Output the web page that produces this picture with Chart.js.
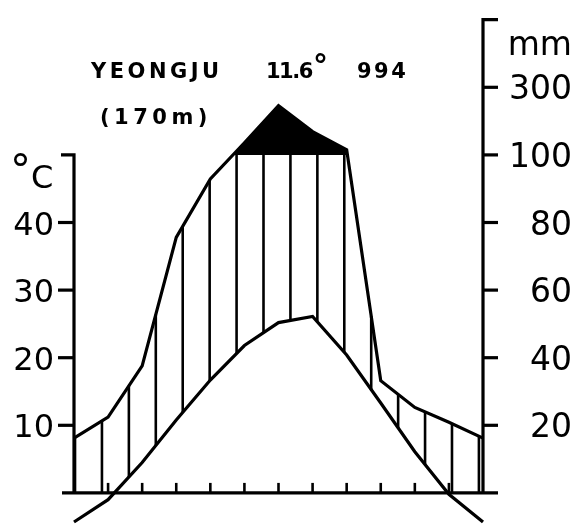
<!DOCTYPE html>
<html>
<head>
<meta charset="utf-8">
<script src="https://cdn.jsdelivr.net/npm/chart.js@4"></script>
<style>
body { margin: 0; background: #fff; }
#wrap { width: 574px; height: 525px; }
</style>
</head>
<body>
<div id="wrap"><canvas id="climate" width="574" height="525"></canvas></div>
<script>
// Walter-Lieth Klimadiagramm, Yeongju

const months = ['Jan', 'Feb', 'Mar', 'Apr', 'May', 'Jun', 'Jul', 'Aug', 'Sep', 'Oct', 'Nov', 'Dec', 'Jan'];
const temperature = [-4.3, -1.0, 4.5, 10.8, 16.7, 21.8, 25.2, 26.1, 20.4, 13.3, 6.1, -0.2];   // °C
const precipitation = [16.2, 22.4, 37.6, 75.6, 92.9, 136, 246, 169, 115, 33.2, 25.3, 20.9]; // mm
const tempTicks = [10, 20, 30, 40];
const rainTicks = [20, 40, 60, 80, 100, 300];
const rainTop = 500;

const station = 'YEONGJU';
const altitude = '(170m)';
const meanTemp = '11.6';
const totalRain = '994';

// 10 °C = 20 mm bis 100 mm, darüber 10 °C = 200 mm
function rainToScale(mm) {
    return mm <= 100 ? mm / 2 : 50 + (mm - 100) / 20;
}

function yAt(points, px) {
    for (let i = 0; i < points.length - 1; i++) {
        const a = points[i], b = points[i + 1];
        if (px >= a.x && px <= b.x) {
            const t = (px - a.x) / (b.x - a.x);
            return a.y + t * (b.y - a.y);
        }
    }
    return points[points.length - 1].y;
}

// senkrechte Schraffur für die humide Zeit
const hatchPlugin = {
    id: 'hatch',
    beforeDatasetsDraw(chart) {
        const ctx = chart.ctx;
        const xs = chart.scales.x, ys = chart.scales.y;
        const rainPts = chart.getDatasetMeta(0).data;
        const tempPts = chart.getDatasetMeta(1).data;
        const x0 = xs.getPixelForValue(0);
        const unit = xs.getPixelForValue(1) - x0;
        const y0 = ys.getPixelForValue(0);
        ctx.save();
        ctx.strokeStyle = '#000';
        ctx.lineWidth = 2.6;
        for (let k = 0; k < 16; k++) {
            const px = x0 + (0.03 + k * 0.79) * unit;
            const top = yAt(rainPts, px);
            const bottom = Math.min(yAt(tempPts, px), y0);
            if (top < bottom) {
                ctx.beginPath();
                ctx.moveTo(px, top);
                ctx.lineTo(px, bottom);
                ctx.stroke();
            }
        }
        ctx.restore();
    }
};

// Achsen, Striche und Beschriftung
const framePlugin = {
    id: 'frame',
    afterDatasetsDraw(chart) {
        const ctx = chart.ctx;
        const xs = chart.scales.x, ys = chart.scales.y;
        const xL = xs.getPixelForValue(0);
        const xR = xs.getPixelForValue(12);
        const y0 = ys.getPixelForValue(0);
        const y50 = ys.getPixelForValue(50);
        const yTop = ys.getPixelForValue(rainToScale(rainTop));

        ctx.save();
        ctx.strokeStyle = '#000';
        ctx.fillStyle = '#000';
        ctx.lineWidth = 3.2;
        ctx.lineCap = 'butt';

        // linke Achse (°C)
        ctx.beginPath();
        ctx.moveTo(xL - 13, y50);
        ctx.lineTo(xL, y50);
        ctx.lineTo(xL, y0);
        ctx.stroke();
        tempTicks.forEach(t => {
            const py = ys.getPixelForValue(t);
            ctx.beginPath();
            ctx.moveTo(xL - 16, py);
            ctx.lineTo(xL, py);
            ctx.stroke();
        });

        // rechte Achse (mm)
        ctx.beginPath();
        ctx.moveTo(xR, y0);
        ctx.lineTo(xR, yTop);
        ctx.lineTo(xR + 15, yTop);
        ctx.stroke();
        rainTicks.forEach(r => {
            const py = ys.getPixelForValue(rainToScale(r));
            ctx.beginPath();
            ctx.moveTo(xR, py);
            ctx.lineTo(xR + 15, py);
            ctx.stroke();
        });

        // Grundlinie mit Monatsstrichen
        ctx.beginPath();
        ctx.moveTo(xL - 12, y0);
        ctx.lineTo(xR + 15, y0);
        ctx.stroke();
        ctx.lineWidth = 2.6;
        for (let m = 1; m < months.length - 1; m++) {
            const px = xs.getPixelForValue(m);
            ctx.beginPath();
            ctx.moveTo(px, y0);
            ctx.lineTo(px, y0 - 10);
            ctx.stroke();
        }

        // Beschriftung links
        ctx.font = '32px "DejaVu Sans"';
        ctx.textAlign = 'right';
        ctx.textBaseline = 'alphabetic';
        tempTicks.forEach(t => {
            ctx.fillText(String(t), xL - 20, ys.getPixelForValue(t) + 12);
        });
        ctx.textAlign = 'left';
        ctx.fillText('C', xL - 43, y50 + 33);
        ctx.font = '42px "DejaVu Sans"';
        ctx.fillText('°', xL - 64, y50 + 30);

        // Beschriftung rechts
        ctx.font = '33px "DejaVu Sans"';
        ctx.textAlign = 'right';
        rainTicks.forEach(r => {
            ctx.fillText(String(r), 572, ys.getPixelForValue(rainToScale(r)) + 12);
        });
        ctx.fillText('mm', 572, ys.getPixelForValue(rainToScale(300)) - 32);

        // Kopfzeile
        ctx.textAlign = 'left';
        ctx.font = 'bold 21px "DejaVu Sans"';
        ctx.letterSpacing = '3.5px';
        ctx.fillText(station, 91, 78);
        ctx.letterSpacing = '2.5px';
        ctx.fillText(totalRain, 357, 78);
        ctx.letterSpacing = '4.5px';
        ctx.fillText(altitude, 100, 124);
        ctx.letterSpacing = '-1.5px';
        ctx.fillText(meanTemp, 266, 78);
        ctx.letterSpacing = '0px';
        ctx.font = 'bold 30px "DejaVu Sans"';
        ctx.fillText('°', 313, 76);
        ctx.restore();
    }
};

const ctx = document.getElementById('climate').getContext('2d');

new Chart(ctx, {
    type: 'line',
    data: {
        labels: months,
        datasets: [{
            label: 'Niederschlag',
            data: precipitation.concat(precipitation[0]).map(rainToScale),
            borderColor: '#000',
            borderWidth: 3.2,
            pointRadius: 0,
            tension: 0,
            fill: {
                target: { value: 50 },
                above: '#000',
                below: 'rgba(0,0,0,0)'
            }
        }, {
            label: 'Temperatur',
            data: temperature.concat(temperature[0]),
            borderColor: '#000',
            borderWidth: 3.2,
            pointRadius: 0,
            tension: 0,
            fill: false
        }]
    },
    options: {
        responsive: false,
        animation: false,
        layout: {
            padding: { left: 74, right: 91, top: 17, bottom: 1 }
        },
        plugins: {
            legend: { display: false },
            tooltip: { enabled: false }
        },
        scales: {
            x: { type: 'category', display: false, offset: false },
            y: { display: false, min: -4.6, max: 70.4 }
        }
    },
    plugins: [hatchPlugin, framePlugin]
});
</script>
</body>
</html>
